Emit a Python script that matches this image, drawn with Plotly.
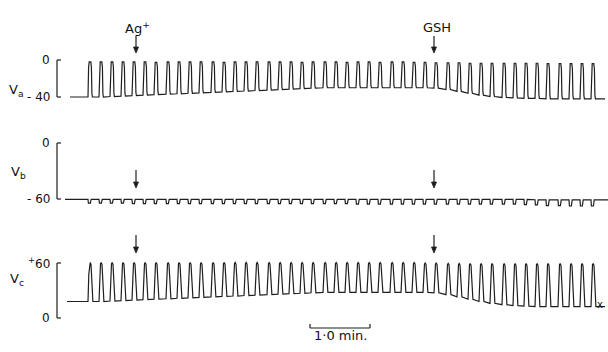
import plotly.graph_objects as go

W, H = 608, 352

# ---- data (time in s, voltages in mV) ----
pulse_t = [23, 34, 45, 56, 67, 78, 89, 101, 112, 123,
           134, 146, 157, 168, 179, 190, 202, 213, 224, 235,
           246, 258, 269, 280, 291, 302, 313, 325, 336, 347,
           358, 369, 381, 392, 403, 414, 425, 437, 448, 459,
           470, 481, 493, 504, 515, 526]

va_base = [-40, -40, -39.5, -39, -38.5, -38, -37.5, -37, -36.5, -36,
           -35.5, -35, -34.5, -34, -33.5, -33, -32.5, -32, -31.5, -31,
           -30.5, -30, -30, -30, -30, -30, -30, -30, -30, -30,
           -30, -30.5, -32, -34, -36, -38, -39.5, -40.5, -41, -41.5,
           -41.5, -42, -42, -42, -42, -42]
va_peak = [-2, -2, -2, -2, -2, -2, -2.5, -2, -2, -2,
           -2, -2, -2.5, -2, -2, -2, -2, -2, -2, -2.5,
           -2, -2, -2, -2.5, -2, -2, -2.5, -2, -2, -2.5,
           -2.5, -3, -3, -3, -3.5, -3.5, -3.5, -3.5, -3.5, -3.5,
           -3.5, -4, -4, -4, -4, -4]

vb_base = [-60.5] * 40 + [-60.8, -61, -61, -61, -61, -61]
vb_dip = [4, 4, 4, 4, 4.5, 4.5, 4.5, 4.5, 4.5, 4.5,
          4.5, 4.5, 4.5, 4.5, 4.5, 4.5, 4.5, 4.5, 4.5, 4.5,
          4.5, 4.5, 4.5, 4.5, 5, 5, 5, 5, 5, 5,
          5, 5, 5, 5, 5, 5, 5, 5, 5, 5.5,
          5.5, 6, 6, 6.5, 6.5, 6.5]

vc_base = [18, 18, 18.5, 19, 19.5, 20, 20.5, 21, 21.5, 22,
           22.5, 23, 23.5, 24, 24.5, 25, 25.5, 26, 26.5, 27,
           27.5, 28, 28, 28, 28, 28, 28, 28, 28, 28,
           28, 27.5, 25.5, 23, 20.5, 18, 16, 14.5, 13.5, 13,
           12.5, 12.5, 12.5, 12.5, 12.5, 12.5]
vc_peak = [60.5] * 30 + [60, 60, 59.5, 59.5, 59.5, 59.5, 59.5, 59.5, 59.5, 59.5,
                         59.5, 59.5, 59.5, 59.5, 59.5, 59.5]

va_start, va_end = (5, -40), (540, -42)
vb_start, vb_end = (0, -60.5), (543, -61)
vc_start, vc_end = (2, 18), (540, 12.5)

event_t = {"Ag<sup>+</sup>": 71, "GSH": 369}
scale_bar = (245, 305)  # 1.0 min

# ---- waveform templates ----
tmpl_a = [(0, 0), (0.6, 0.85), (1.2, 1.0), (2.8, 1.0), (3.4, 0.85), (3.9, 0.1), (4.4, 0)]
tmpl_c = [(0, 0), (0.8, 0.7), (1.5, 0.97), (2.2, 1.0), (3.0, 0.95), (3.7, 0.6), (4.3, 0.1), (4.9, 0)]
tmpl_b = [(0, 0), (0.4, 1.0), (2.4, 1.0), (2.9, 0.2), (3.2, 0)]


def build(start, end, base, amp_to, tmpl):
    xs, ys = [start[0]], [start[1]]
    for t0, b, p in zip(pulse_t, base, amp_to):
        for dt, f in tmpl:
            xs.append(t0 + dt)
            ys.append(b + (p - b) * f)
    xs.append(end[0])
    ys.append(end[1])
    return xs, ys


xa, ya = build(va_start, va_end, va_base, va_peak, tmpl_a)
xb, yb = build(vb_start, vb_end, vb_base, [b - d for b, d in zip(vb_base, vb_dip)], tmpl_b)
xc, yc = build(vc_start, vc_end, vc_base, vc_peak, tmpl_c)

X0 = -65  # x-axis left edge (1 px per second)


def pxx(px):
    return px + X0


def py(px):
    return (H - px) / H


def yaxis(px_top, px_bot, px_a, val_a, px_b, val_b):
    k = (val_a - val_b) / (px_b - px_a)
    v = lambda p: val_a + (px_a - p) * k
    return dict(domain=[py(px_bot), py(px_top)], range=[v(px_bot), v(px_top)],
                visible=False, fixedrange=True)


INK = "#1e1e1e"
LINE = dict(color=INK, width=1.2)
fig = go.Figure()
fig.add_trace(go.Scatter(x=xa, y=ya, mode="lines", line=LINE, yaxis="y"))
fig.add_trace(go.Scatter(x=xb, y=yb, mode="lines", line=LINE, yaxis="y2"))
fig.add_trace(go.Scatter(x=xc, y=yc, mode="lines", line=LINE, yaxis="y3"))

FAM = "DejaVu Sans, Verdana, sans-serif"
FONT = dict(family=FAM, size=12, color="#111")
FONT_L = dict(family=FAM, size=13, color="#111")
FONT_V = dict(family=FAM, size=13, color="#111")
ann = []
shapes = []

# scale brackets and labels
brackets = [("y", 0, -40, "0", "- 40"),
            ("y2", 0, -60, "0", "- 60"),
            ("y3", 60, 0, "<sup>+</sup>60", "0")]
for yr, top, bot, tl, bl in brackets:
    bx, tx = pxx(57), pxx(61)
    shapes.append(dict(type="line", xref="x", yref=yr, x0=bx, x1=bx, y0=top, y1=bot, line=LINE))
    shapes.append(dict(type="line", xref="x", yref=yr, x0=bx, x1=tx, y0=top, y1=top, line=LINE))
    shapes.append(dict(type="line", xref="x", yref=yr, x0=bx, x1=tx, y0=bot, y1=bot, line=LINE))
    ann.append(dict(x=pxx(52), y=top, xref="x", yref=yr, text=tl, showarrow=False,
                    xanchor="right", yanchor="middle", font=FONT))
    ann.append(dict(x=pxx(52), y=bot, xref="x", yref=yr, text=bl, showarrow=False,
                    xanchor="right", yanchor="middle", font=FONT))

ann.append(dict(x=pxx(7), y=py(80), xref="x", yref="paper", text="V<sub>a</sub>",
                showarrow=False, xanchor="left", font=FONT_V))
ann.append(dict(x=pxx(9), y=py(172), xref="x", yref="paper", text="V<sub>b</sub>",
                showarrow=False, xanchor="left", font=FONT_V))
ann.append(dict(x=pxx(8), y=py(290), xref="x", yref="paper", text="V<sub>c</sub>",
                showarrow=False, xanchor="left", font=FONT_V))

# event labels & arrows (drawn as shapes)
arrow_rows = [(53, 36), (188, 170), (253, 235)]
for label, t in event_t.items():
    ann.append(dict(x=t + (1 if label == "Ag<sup>+</sup>" else 3), y=py(18), xref="x", yref="paper",
                    text=label, showarrow=False, font=FONT_L))
    for head, tail in arrow_rows:
        shapes.append(dict(type="line", xref="x", yref="paper", x0=t, x1=t,
                           y0=py(tail), y1=py(head - 4), line=LINE))
        shapes.append(dict(type="path", xref="x", yref="paper",
                           path=f"M {t - 2.5},{py(head - 6)} L {t + 2.5},{py(head - 6)} L {t},{py(head)} Z",
                           fillcolor=INK, line=dict(color=INK, width=0.8)))

# time scale bar
s0, s1 = scale_bar
shapes.append(dict(type="line", xref="x", yref="paper", x0=s0, x1=s1, y0=py(328), y1=py(328), line=LINE))
shapes.append(dict(type="line", xref="x", yref="paper", x0=s0, x1=s0, y0=py(328), y1=py(324), line=LINE))
shapes.append(dict(type="line", xref="x", yref="paper", x0=s1, x1=s1, y0=py(328), y1=py(324), line=LINE))
ann.append(dict(x=(s0 + s1) / 2, y=py(345), xref="x", yref="paper", text="1·0 min.",
                showarrow=False, font=FONT_L))
ann.append(dict(x=535, y=py(312), xref="x", yref="paper", text="x",
                showarrow=False, font=dict(family=FAM, size=10, color="#111")))

fig.update_layout(
    width=W, height=H, margin=dict(l=0, r=0, t=0, b=0),
    paper_bgcolor="white", plot_bgcolor="white", showlegend=False,
    xaxis=dict(range=[X0, X0 + W], visible=False, fixedrange=True),
    yaxis=yaxis(40, 115, 60, 0, 97, -40),
    yaxis2=yaxis(125, 215, 143, 0, 199, -60),
    yaxis3=yaxis(225, 330, 263, 60, 318, 0),
    annotations=ann, shapes=shapes,
)
fig.write_html("out.html")
